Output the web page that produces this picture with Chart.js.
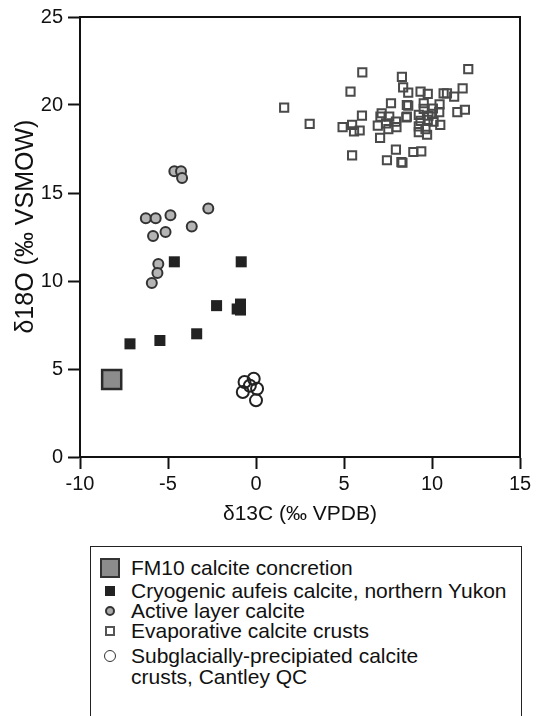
<!DOCTYPE html>
<html>
<head>
<meta charset="utf-8">
<script src="https://cdn.jsdelivr.net/npm/chart.js@4"></script>
<style>
  body { margin: 0; background: #fff; width: 536px; height: 716px; overflow: hidden; position: relative; font-family: "Liberation Sans", Arial, sans-serif; }
  #wrap { position: absolute; left: 0; top: 0; width: 536px; height: 535px; }
  #legend { position: absolute; left: 90px; top: 546px; width: 432px; height: 200px; border: 1.5px solid #222; box-sizing: border-box; }
  .row { position: absolute; left: 40px; font-size: 21px; line-height: 21px; color: #111; white-space: nowrap; }
  .mk { position: absolute; box-sizing: border-box; }
</style>
</head>
<body>
<div id="wrap"><canvas id="myChart"></canvas></div>
<div id="legend">
  <div class="mk" style="left:9px;top:11px;width:20px;height:20px;background:#8c8c8c;border:2px solid #333;"></div>
  <div class="row" style="top:10px;">FM10 calcite concretion</div>
  <div class="mk" style="left:14px;top:39px;width:10px;height:10px;background:#222;"></div>
  <div class="row" style="top:33px;">Cryogenic aufeis calcite, northern Yukon</div>
  <div class="mk" style="left:14px;top:59px;width:10px;height:10px;background:#aaa;border:2px solid #333;border-radius:50%;"></div>
  <div class="row" style="top:53px;">Active layer calcite</div>
  <div class="mk" style="left:14px;top:79px;width:10px;height:10px;border:2px solid #555;"></div>
  <div class="row" style="top:73px;">Evaporative calcite crusts</div>
  <div class="mk" style="left:13px;top:103px;width:12px;height:12px;border:1.5px solid #333;border-radius:50%;"></div>
  <div class="row" style="top:98px;">Subglacially-precipiated calcite<br>crusts, Cantley QC</div>
</div>
<script>
// FM10 calcite concretion
var fm10X = [-8.2];
var fm10Y = [4.4];

// Cryogenic aufeis calcite, northern Yukon
var cryoX = [-4.64, -0.84, -2.24, -0.88, -0.88, -1.07, -3.37, -5.46, -7.16];
var cryoY = [11.09, 11.09, 8.6, 8.69, 8.35, 8.41, 7.0, 6.62, 6.43];

// Active layer calcite
var activeX = [-4.64, -4.26, -4.2, -2.71, -6.26, -5.7, -4.86, -3.65, -5.14, -5.85, -5.55, -5.6, -5.92];
var activeY = [16.23, 16.23, 15.85, 14.12, 13.56, 13.56, 13.73, 13.09, 12.78, 12.56, 10.96, 10.45, 9.88];

// Evaporative calcite crusts
var evapX = [1.6, 3.05, 6.04, 5.37, 8.29, 8.36, 8.65, 7.67, 8.57, 8.57, 6.02, 7.14, 7.07, 7.57, 7.39,
  6.92, 7.95, 7.52, 7.98, 7.05, 4.92, 5.46, 5.57, 5.89, 5.46, 7.95, 7.44, 8.26, 12.06, 9.35,
  9.76, 10.66, 11.26, 11.74, 8.65, 9.53, 10.43, 9.53, 8.54, 9.25, 10.0, 10.41, 11.44, 11.87, 9.35,
  9.76, 10.09, 10.47, 9.25, 9.25, 9.72, 8.94, 9.39, 8.32, 10.85, 10.05, 9.8, 9.63];
var evapY = [19.85, 18.93, 21.85, 20.76, 21.6, 21.0, 20.7, 20.1, 20.0, 19.34, 19.4, 19.53, 19.34, 19.34, 18.96,
  18.83, 19.06, 18.63, 18.74, 18.13, 18.74, 18.87, 18.5, 18.55, 17.14, 17.46, 16.86, 16.76, 22.04, 20.76,
  20.63, 20.66, 20.48, 20.95, 19.97, 20.1, 20.04, 19.78, 19.3, 19.44, 19.5, 19.6, 19.6, 19.73, 19.1,
  19.15, 19.06, 18.87, 18.78, 18.46, 18.31, 17.33, 17.36, 16.72, 20.66, 19.8, 19.4, 18.63];

// Subglacially-precipiated calcite crusts, Cantley QC
var subX = [-0.65, -0.13, 0.06, -0.75, 0.0, -0.35];
var subY = [4.26, 4.45, 3.88, 3.69, 3.22, 4.05];

var xTicks = [-10, -5, 0, 5, 10, 15];
var yTicks = [0, 5, 10, 15, 20, 25];

function toPoints(xs, ys) {
    var pts = [];
    for (let i = 0; i < xs.length; i++) {
        pts.push({ x: xs[i], y: ys[i] });
    }
    return pts;
}

// box round the plot area (top and right lines)
const frame = {
    id: 'frame',
    afterDraw(chart) {
        const a = chart.chartArea;
        const ctx = chart.ctx;
        ctx.save();
        ctx.strokeStyle = '#111';
        ctx.lineWidth = 2;
        ctx.beginPath();
        ctx.moveTo(a.left, a.top);
        ctx.lineTo(a.right, a.top);
        ctx.lineTo(a.right, a.bottom);
        ctx.stroke();
        ctx.restore();
    }
};

const tickFont = { family: '"Liberation Sans", Arial, sans-serif', size: 20 };

const ctx = document.getElementById('myChart');
var myChart = new Chart(ctx, {
    type: 'scatter',
    data: {
        datasets: [
          {
            label: 'Evaporative calcite crusts',
            data: toPoints(evapX, evapY),
            pointStyle: 'rect',
            pointRadius: 5.8,
            backgroundColor: 'rgba(255,255,255,0)',
            borderColor: '#4a4a4a',
            borderWidth: 2
          },
          {
            label: 'Active layer calcite',
            data: toPoints(activeX, activeY),
            pointStyle: 'circle',
            pointRadius: 5,
            backgroundColor: '#b4b4b4',
            borderColor: '#333',
            borderWidth: 2
          },
          {
            label: 'Cryogenic aufeis calcite, northern Yukon',
            data: toPoints(cryoX, cryoY),
            pointStyle: 'rect',
            pointRadius: 7.8,
            backgroundColor: '#222',
            borderColor: '#222',
            borderWidth: 0
          },
          {
            label: 'Subglacially-precipiated calcite crusts, Cantley QC',
            data: toPoints(subX, subY),
            pointStyle: 'circle',
            pointRadius: 6,
            backgroundColor: 'rgba(255,255,255,0)',
            borderColor: '#222',
            borderWidth: 2
          },
          {
            label: 'FM10 calcite concretion',
            data: toPoints(fm10X, fm10Y),
            pointStyle: 'rect',
            pointRadius: 13.5,
            backgroundColor: '#8c8c8c',
            borderColor: '#2a2a2a',
            borderWidth: 2.5
          }
        ]
    },
    options: {
        responsive: true,
        maintainAspectRatio: false,
        animation: false,
        layout: { padding: { top: 15, right: 10, left: 0, bottom: 0 } },
        plugins: {
            legend: { display: false },
            tooltip: { enabled: false }
        },
        scales: {
            x: {
                type: 'linear',
                min: -10,
                max: 15,
                afterFit(scale) { scale.height = 78; },
                afterBuildTicks(scale) { scale.ticks = xTicks.map(v => ({ value: v })); },
                ticks: { color: '#111', font: tickFont, padding: 3, maxRotation: 0 },
                grid: { drawOnChartArea: false, drawTicks: true, tickLength: 12, tickWidth: 2, tickColor: '#111' },
                border: { display: true, color: '#111', width: 2 },
                title: {
                    display: true,
                    text: 'δ13C (‰ VPDB)',
                    color: '#111',
                    font: { family: '"Liberation Sans", Arial, sans-serif', size: 21 },
                    padding: { top: 0, bottom: 8 }
                }
            },
            y: {
                type: 'linear',
                min: 0,
                max: 25,
                afterFit(scale) { scale.width = 80; },
                afterBuildTicks(scale) { scale.ticks = yTicks.map(v => ({ value: v })); },
                ticks: { color: '#111', font: tickFont, padding: 5 },
                grid: { drawOnChartArea: false, drawTicks: true, tickLength: 12, tickWidth: 2, tickColor: '#111' },
                border: { display: true, color: '#111', width: 2 },
                title: {
                    display: true,
                    text: '   δ18O (‰ VSMOW)',
                    color: '#111',
                    font: { family: '"Liberation Sans", Arial, sans-serif', size: 25 },
                    padding: { top: 11, bottom: 0 }
                }
            }
        }
    },
    plugins: [frame]
});
</script>
</body>
</html>
